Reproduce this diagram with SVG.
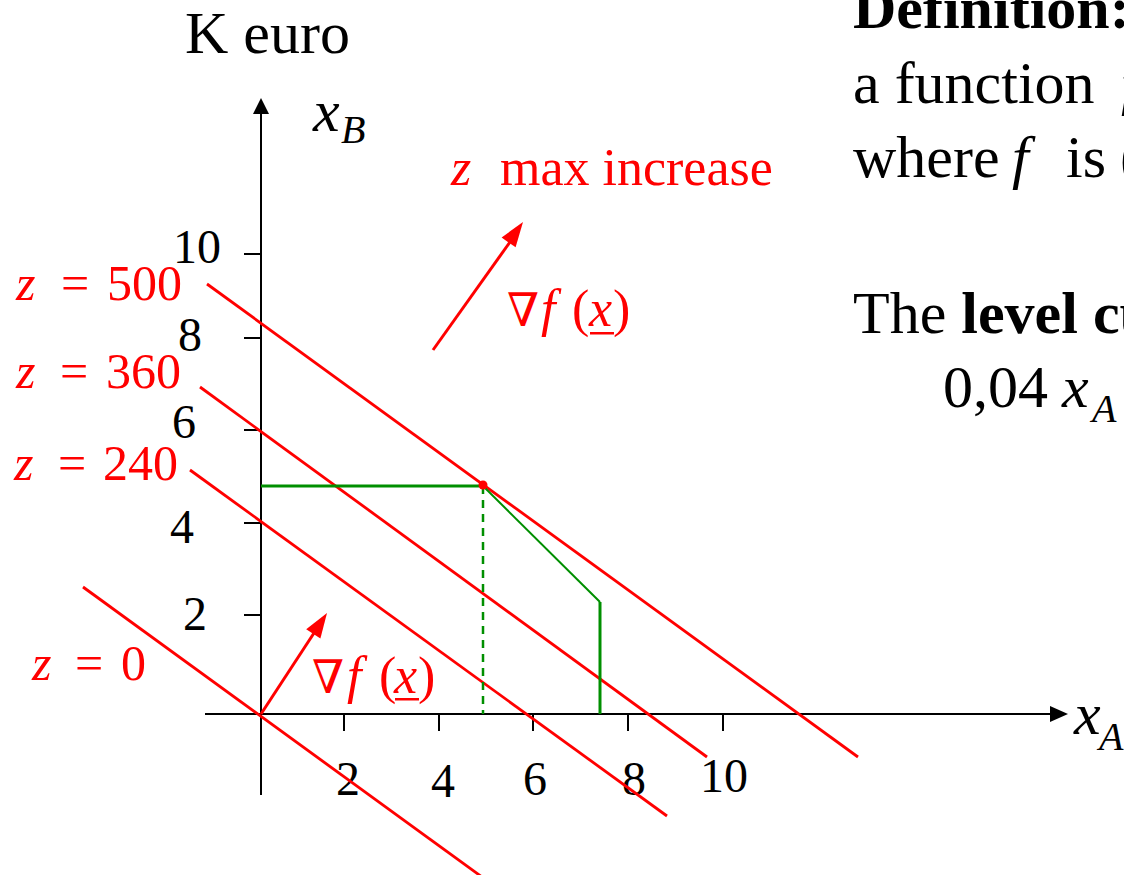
<svg xmlns="http://www.w3.org/2000/svg" width="1124" height="875" viewBox="0 0 1124 875">
<style>
.t{font-family:"Liberation Serif","DejaVu Serif",serif;fill:#000}
.r{fill:#ff0000}
.i{font-style:italic}
.b{font-weight:bold}
.ax{stroke:#000;stroke-width:2;fill:none}
.lv{stroke:#ff0000;stroke-width:2.8;fill:none}
.g{stroke:#008f00;fill:none}
</style>
<rect width="1124" height="875" fill="#fff"/>
<g id="axes">
  <line class="ax" x1="261" y1="795" x2="261" y2="112"/>
  <polygon points="261,98 253,114 269,114" fill="#000"/>
  <line class="ax" x1="205" y1="714" x2="1052" y2="714"/>
  <polygon points="1068,714 1050,706 1050,722" fill="#000"/>
  <g class="ax" stroke-width="3">
    <line x1="244" y1="254" x2="261" y2="254"/>
    <line x1="244" y1="338" x2="261" y2="338"/>
    <line x1="244" y1="430" x2="261" y2="430"/>
    <line x1="244" y1="523" x2="261" y2="523"/>
    <line x1="244" y1="615" x2="261" y2="615"/>
    <line x1="344" y1="714" x2="344" y2="731"/>
    <line x1="439" y1="714" x2="439" y2="731"/>
    <line x1="533" y1="714" x2="533" y2="731"/>
    <line x1="628" y1="714" x2="628" y2="731"/>
    <line x1="723" y1="714" x2="723" y2="731"/>
  </g>
</g>
<g id="tick-labels" class="t" font-size="48">
  <text x="173" y="263">10</text>
  <text x="178" y="351">8</text>
  <text x="172" y="438">6</text>
  <text x="170" y="543">4</text>
  <text x="183" y="630">2</text>
  <text x="336" y="795">2</text>
  <text x="431" y="797">4</text>
  <text x="523" y="795">6</text>
  <text x="622" y="795">8</text>
  <text x="700" y="792">10</text>
</g>
<g id="axis-labels" class="t">
  <text x="185" y="53" font-size="60">K euro</text>
  <text x="313" y="131" font-size="60" class="i">x</text>
  <text x="341" y="143" font-size="40" class="i">B</text>
  <text x="1074" y="734" font-size="60" class="i">x</text>
  <text x="1099" y="750" font-size="40" class="i">A</text>
</g>
<g id="connectors">
  <line class="lv" x1="83" y1="587" x2="482" y2="877"/>
  <line class="lv" x1="190" y1="470" x2="667" y2="816"/>
  <line class="lv" x1="200" y1="387" x2="707" y2="757"/>
  <line class="lv" x1="207" y1="284" x2="858" y2="757"/>
  <line class="g" stroke-width="3" x1="261" y1="486" x2="483" y2="486"/>
  <line class="g" stroke-width="2.5" stroke-dasharray="8,6" x1="483" y1="486" x2="483" y2="714"/>
  <line class="g" stroke-width="2" x1="483" y1="486" x2="600" y2="602"/>
  <line class="g" stroke-width="3" x1="600" y1="602" x2="600" y2="714"/>
  <circle cx="483" cy="485" r="4.5" fill="#ff0000"/>
  <line stroke="#ff0000" stroke-width="3" x1="433" y1="350" x2="510" y2="242"/>
  <polygon points="523,222 515.6,247.3 501.6,237.5" fill="#ff0000"/>
  <line stroke="#ff0000" stroke-width="3" x1="261" y1="714" x2="314" y2="633"/>
  <polygon points="327,613 320.4,638.5 306.2,629.3" fill="#ff0000"/>
</g>
<g id="level-labels" class="t r" font-size="50">
  <text y="300"><tspan x="16" class="i">z</tspan><tspan x="61">=</tspan><tspan x="107">500</tspan></text>
  <text y="388"><tspan x="16" class="i">z</tspan><tspan x="60">=</tspan><tspan x="106">360</tspan></text>
  <text y="480"><tspan x="14" class="i">z</tspan><tspan x="58">=</tspan><tspan x="103">240</tspan></text>
  <text y="680"><tspan x="32" class="i">z</tspan><tspan x="75">=</tspan><tspan x="121">0</tspan></text>
</g>
<g id="gradient-labels" class="t r">
  <text y="185" font-size="52"><tspan x="451" class="i">z</tspan><tspan x="500">max increase</tspan></text>
  <text y="326" font-size="52"><tspan x="507" font-size="46">∇</tspan><tspan x="541" class="i">f</tspan><tspan x="572">(</tspan><tspan x="589" class="i">x</tspan><tspan x="613">)</tspan></text>
  <rect x="590" y="332" width="24" height="2.5" fill="#ff0000"/>
  <text y="693" font-size="52"><tspan x="312" font-size="46">∇</tspan><tspan x="347" class="i">f</tspan><tspan x="379">(</tspan><tspan x="394" class="i">x</tspan><tspan x="418">)</tspan></text>
  <rect x="395" y="698" width="24" height="2.5" fill="#ff0000"/>
</g>
<g id="definition" class="t" font-size="60">
  <text x="853" y="28" class="b">Definition:</text>
  <text x="853" y="103">a function <tspan x="1121" class="i">f</tspan></text>
  <text x="853" y="177">where <tspan x="1012" class="i">f</tspan><tspan x="1066">is</tspan><tspan x="1120">(</tspan></text>
  <text x="853" y="333">The <tspan class="b">level cu</tspan></text>
  <text x="943" y="407">0,04 <tspan x="1062" class="i">x</tspan><tspan x="1092" y="422" font-size="40" class="i">A</tspan></text>
</g>
</svg>
